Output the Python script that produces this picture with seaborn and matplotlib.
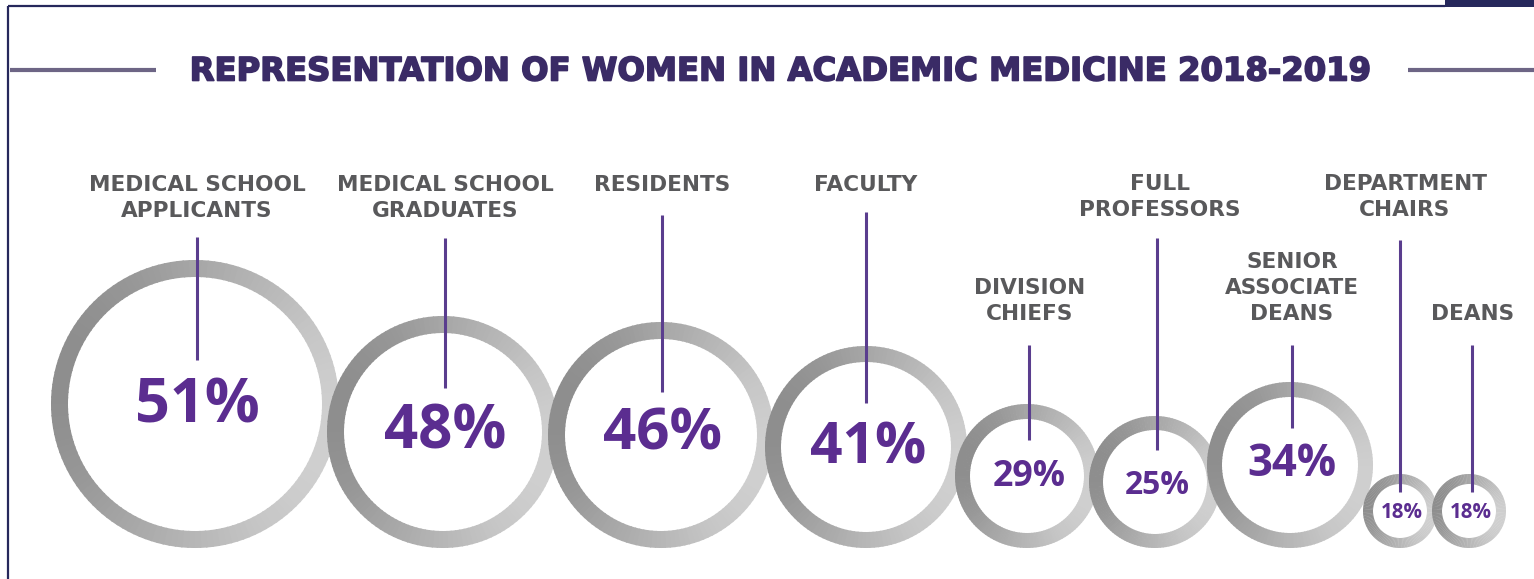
import numpy as np
import matplotlib
matplotlib.use("Agg")
import matplotlib.pyplot as plt
import matplotlib.patheffects as pe
from matplotlib.patches import Wedge, Rectangle
import seaborn as sns

# ---- data -------------------------------------------------------------
categories = [
    ["MEDICAL SCHOOL", "APPLICANTS"],
    ["MEDICAL SCHOOL", "GRADUATES"],
    ["RESIDENTS"],
    ["FACULTY"],
    ["DIVISION", "CHIEFS"],
    ["FULL", "PROFESSORS"],
    ["SENIOR", "ASSOCIATE", "DEANS"],
    ["DEPARTMENT", "CHAIRS"],
    ["DEANS"],
]
women_pct = [51, 48, 46, 41, 29, 25, 34, 18, 18]
title = "REPRESENTATION OF WOMEN IN ACADEMIC MEDICINE 2018-2019"

# ---- layout (pixel space) --------------------------------------------
W, H = 1534, 579
baseline = 548
ring_x = [195, 443, 661, 866, 1027, 1155, 1290, 1400, 1469]
ring_r = [144, 116, 113, 101, 72, 66, 83, 37, 37]
ring_w = [17, 17, 17, 16, 15, 14, 15, 10, 10]
label_x = [197, 445, 662, 866, 1030, 1160, 1292, 1405, 1473]
label_y0 = [185, 185, 185, 185, 288, 184, 262, 184, 314]
stem_x = [197, 445, 662, 866, 1029, 1157, 1292, 1400, 1472]
stem_top = [237, 238, 215, 212, 345, 238, 345, 240, 345]
stem_bot = [360, 388, 392, 403, 440, 450, 428, 492, 492]
pct_y = [407, 433, 435, 448, 477, 485, 465, 513, 513]
pct_w = [125, 122, 119, 116, 73, 65, 89, 42, 42]

TITLE_C = "#3a2b66"
LABEL_C = "#59595b"
PCT_C = "#5b2d90"
STEM_C = "#5a3d8e"
FRAME_C = "#26285c"
RULE_C = "#6d6585"

sns.set_theme(style="white")
plt.rcParams["font.family"] = ["Open Sans", "DejaVu Sans"]

fig = plt.figure(figsize=(W / 100, H / 100), dpi=100)
ax = fig.add_axes([0, 0, 1, 1])
ax.set_xlim(0, W)
ax.set_ylim(H, 0)
ax.set_aspect("equal")
ax.axis("off")
renderer = fig.canvas.get_renderer()


def fitted_size(s, width, **kw):
    t = ax.text(0, 0, s, fontsize=20, **kw)
    w = t.get_window_extent(renderer).width
    t.remove()
    return 20 * width / w


def fitted_text(x, y, s, width, **kw):
    size = fitted_size(s, width, **kw)
    return ax.text(x, y, s, fontsize=size, ha="center", va="center", **kw)


wide_bold = dict(family=["DejaVu Sans"], fontweight="bold")

# frame
ax.plot([8, 8], [6, H], color=FRAME_C, lw=1.6, solid_capstyle="butt")
ax.plot([8, 1445], [6, 6], color=FRAME_C, lw=1.6, solid_capstyle="butt")
ax.add_patch(Rectangle((1445, 0), W - 1445, 7, color=FRAME_C, lw=0))

# title with side rules
t = fitted_text(781, 72, title, 1178, color=TITLE_C, **wide_bold)
t.set_path_effects([pe.withStroke(linewidth=1.2, foreground=TITLE_C)])
ax.plot([10, 156], [70, 70], color=RULE_C, lw=3, solid_capstyle="butt")
ax.plot([1408, W], [70, 70], color=RULE_C, lw=3, solid_capstyle="butt")

# ring shading: darker on the left, lighter on the right
shades = sns.blend_palette(["#cfcfcf", "#8e8e8e"], 64)
nseg = 144
for cx, r, rw in zip(ring_x, ring_r, ring_w):
    cy = baseline - r
    for k in range(nseg):
        a0 = 360 * k / nseg
        a1 = 360 * (k + 1) / nseg
        mid = np.deg2rad((a0 + a1) / 2)
        s = (1 - np.cos(mid - np.deg2rad(15))) / 2
        c = shades[min(int(s * 63.999), 63)]
        ax.add_patch(Wedge((cx, cy), r, a0, a1 + 0.6, width=rw,
                           facecolor=c, edgecolor="none", zorder=2))

# category labels
lab_size = fitted_size("MEDICAL SCHOOL", 216, **wide_bold)
line_step = 26
for lx, ly, lines in zip(label_x, label_y0, categories):
    for i, ln in enumerate(lines):
        ax.text(lx, ly + i * line_step, ln, ha="center", va="center",
                color=LABEL_C, fontsize=lab_size, **wide_bold)

# stems
for sx, st, sb in zip(stem_x, stem_top, stem_bot):
    ax.plot([sx, sx], [st, sb], color=STEM_C, lw=2.2,
            solid_capstyle="butt", zorder=3)

# percentages
for cx, py, pw, v in zip(ring_x, pct_y, pct_w, women_pct):
    fitted_text(cx + 2, py, f"{v}%", pw, color=PCT_C, fontweight="bold",
                zorder=4)

fig.savefig("out.png", dpi=100, facecolor="white")
